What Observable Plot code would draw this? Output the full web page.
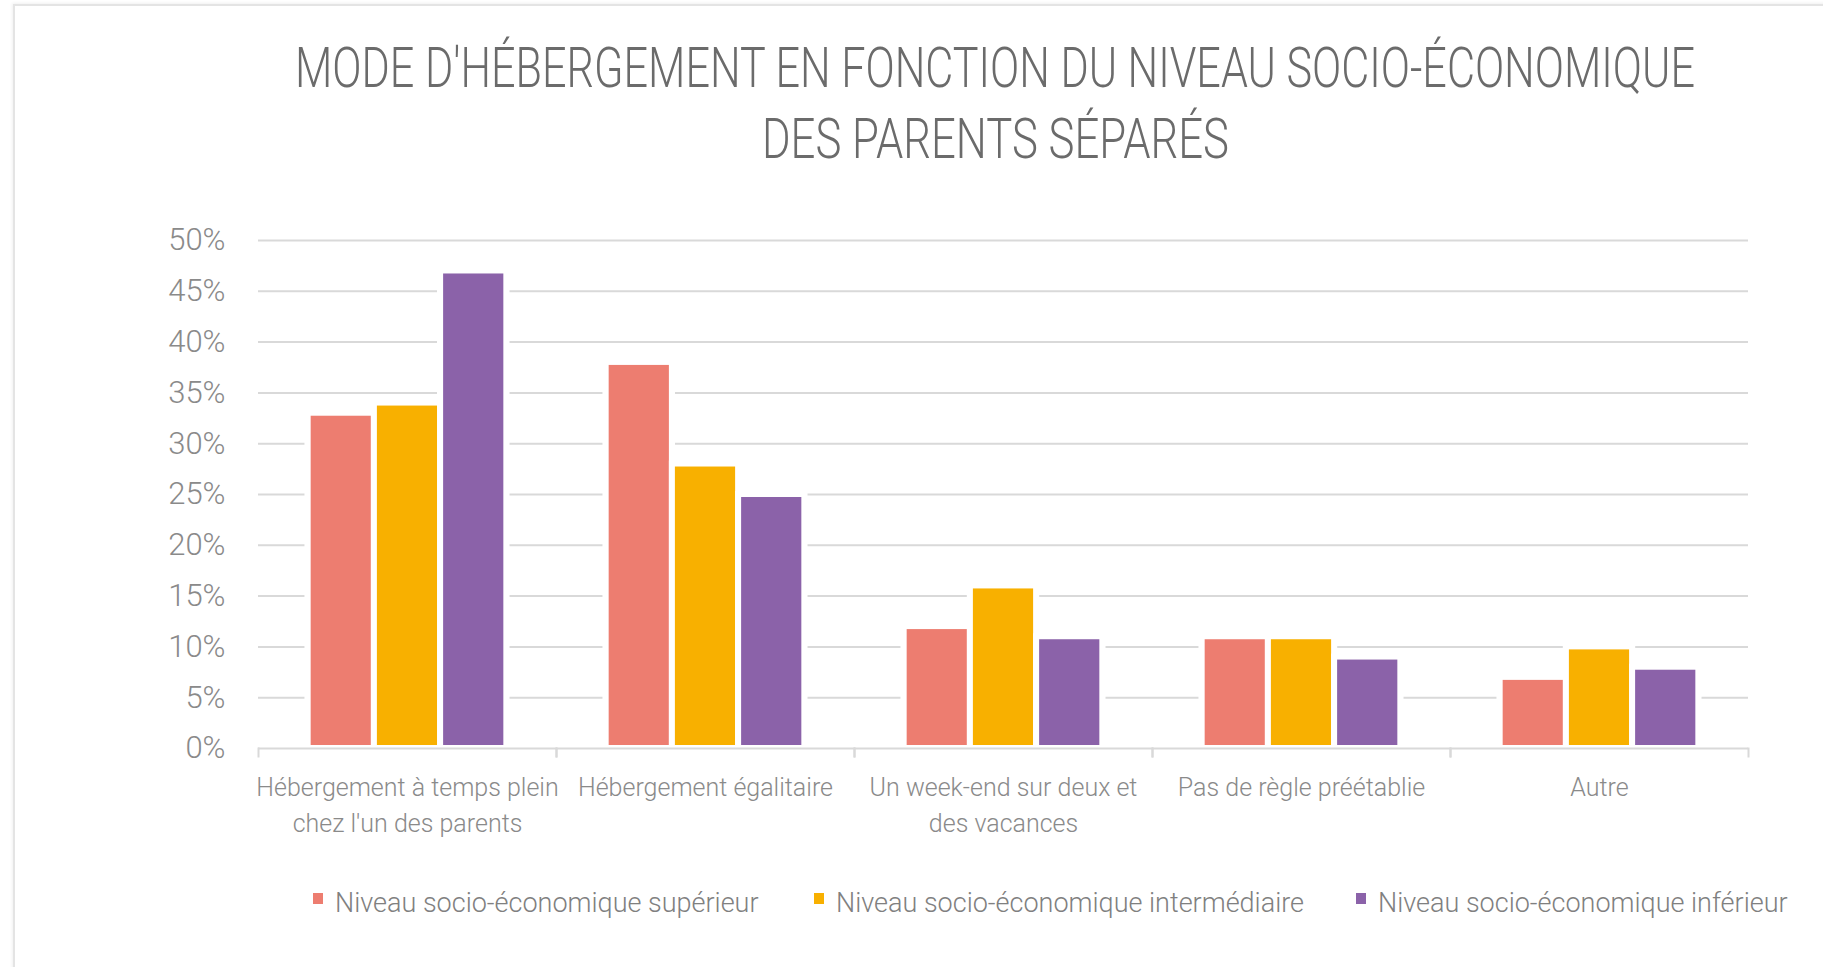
<!DOCTYPE html>
<html>
<head>
<meta charset="utf-8">
<script src="https://cdn.jsdelivr.net/npm/d3@7"></script>
<script src="https://cdn.jsdelivr.net/npm/@observablehq/plot@0.6"></script>
<style>
  html, body { margin: 0; padding: 0; background: #ffffff; }
  body { width: 1823px; height: 967px; position: relative; overflow: hidden; font-family: Roboto, "Liberation Sans", sans-serif; }
  #frame { position: absolute; left: 13px; top: 4px; width: 1830px; height: 980px; border-top: 2px solid #e4e4e4; border-left: 2px solid #e4e4e4; box-shadow: -1px -1px 3px rgba(0,0,0,0.06); }
  #title { position: absolute; left: 0; top: 0; }
  #chart { position: absolute; left: 0; top: 200px; }
  #legend { position: absolute; left: 0; top: 855px; }
</style>
</head>
<body>
<div id="frame"></div>
<svg id="title" width="1823" height="200" xmlns="http://www.w3.org/2000/svg">
  <g font-family="Roboto, 'Liberation Sans', sans-serif" font-weight="300" font-size="40" fill="#6b6b6b">
    <text transform="translate(295,87) scale(1,1.4)" x="0" y="0" textLength="1400" lengthAdjust="spacingAndGlyphs">MODE D'HÉBERGEMENT EN FONCTION DU NIVEAU SOCIO-ÉCONOMIQUE</text>
    <text transform="translate(762,158) scale(1,1.4)" x="0" y="0" textLength="467" lengthAdjust="spacingAndGlyphs">DES PARENTS SÉPARÉS</text>
  </g>
</svg>
<div id="chart"></div>
<svg id="legend" width="1823" height="100" xmlns="http://www.w3.org/2000/svg"></svg>
<script>
// ---- Data ----
const categories = [
  "Hébergement à temps plein\nchez l'un des parents",
  "Hébergement égalitaire",
  "Un week-end sur deux et\ndes vacances",
  "Pas de règle préétablie",
  "Autre"
];
const seriesNames = [
  "Niveau socio-économique supérieur",
  "Niveau socio-économique intermédiaire",
  "Niveau socio-économique inférieur"
];
const superieur     = [33, 38, 12, 11, 7];
const intermediaire = [34, 28, 16, 11, 10];
const inferieur     = [47, 25, 11, 9, 8];
const yTicks = [0, 5, 10, 15, 20, 25, 30, 35, 40, 45, 50];
const colors = ["#ED7D70", "#F8B000", "#8B62A9"];

const seriesValues = [superieur, intermediaire, inferieur];
const data = categories.flatMap((cat, i) =>
  seriesNames.map((s, j) => ({cat, series: s, value: seriesValues[j][i]}))
);

const FONT = "Roboto, 'Liberation Sans', sans-serif";
const H = 660, MT = 40, MB = 112;
const innerH = H - MT - MB;
const grid = "#d9d9d9";

const chart = Plot.plot({
  width: 1823,
  height: H,
  marginTop: MT,
  marginBottom: MB,
  marginLeft: 256,
  marginRight: 73,
  style: {fontFamily: FONT, fontSize: "28px", fontWeight: 300, color: "#8a8a8a", background: "transparent", overflow: "visible"},
  fx: {domain: categories, paddingInner: 0, paddingOuter: 0, axis: null, label: null},
  x: {domain: seriesNames, paddingInner: 0, paddingOuter: 0.75, round: false, axis: null, label: null},
  y: {domain: [0, 50], axis: null, label: null},
  color: {domain: seriesNames, range: colors},
  marks: [
    Plot.ruleY(yTicks.filter(d => d > 0), {stroke: grid, strokeWidth: 2}),
    Plot.barY(data, {fx: "cat", x: "series", y: "value", fill: "white", insetLeft: -3, insetRight: -3, insetTop: -3}),
    Plot.barY(data, {fx: "cat", x: "series", y: "value", fill: "series", stroke: "white", strokeWidth: 6}),
    Plot.ruleY([0], {stroke: grid, strokeWidth: 2}),
    Plot.frame({anchor: "left", stroke: grid, strokeWidth: 2, insetTop: innerH, insetBottom: -8}),
    Plot.frame({anchor: "right", stroke: grid, strokeWidth: 2, insetTop: innerH, insetBottom: -8}),
    Plot.axisY({ticks: yTicks, tickSize: 0, tickPadding: 33, tickFormat: d => d + "%", fontSize: 31, fill: "#8a8a8a"}),
    Plot.text(categories, {fx: d => d, text: d => d, frameAnchor: "bottom", lineAnchor: "top", dy: 21, lineHeight: 1.47, fontSize: 25, fill: "#8a8a8a"})
  ]
});
document.getElementById("chart").appendChild(chart);

// ---- Legend ----
const legendSwatchX = [313, 814, 1356];
const legend = d3.select("#legend");
seriesNames.forEach((name, i) => {
  const g = legend.append("g");
  g.append("rect").attr("x", legendSwatchX[i]).attr("y", 38).attr("width", 10).attr("height", 11).attr("fill", colors[i]);
  g.append("text").attr("x", legendSwatchX[i] + 22).attr("y", 57)
    .attr("font-family", FONT).attr("font-weight", 300).attr("font-size", 27).attr("fill", "#808080")
    .text(name);
});
</script>
</body>
</html>
